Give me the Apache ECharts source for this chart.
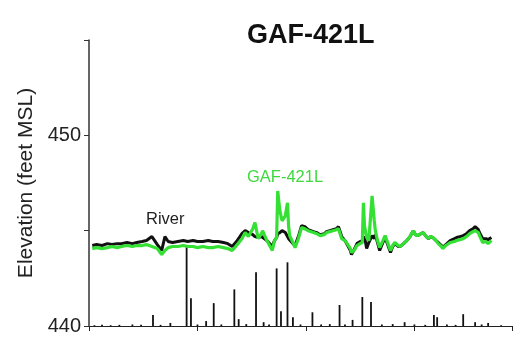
<!DOCTYPE html>
<html><head><meta charset="utf-8">
<script src="https://cdn.jsdelivr.net/npm/echarts@6/dist/echarts.min.js"></script>
<style>html,body{margin:0;padding:0;background:#fff}#c{width:514px;height:339px}</style>
</head><body><div id="c"></div>
<script>
const days = [3,7,12,17,21,26,30,35,40,44,49,53,58,63,67,70,73,77,82,87,91,96,100,105,110,114,119,124,128,132,136,141,144,147,148,151,153,156,159,160,164,169,171,173,174,176,178,181,183,184,185,188,190,193,196,199,202,207,210,213,217,219,222,225,228,230,233,236,238,241,242,245,247,250,252,253,254,256,258,261,263,264,266,268,271,273,276,278,280,282,285,287,290,293,296,299,301,303,306,308,311,313,315,317,320,322,325,326,329,333,337,339,342,345,348,351,354,356,359,360,363,366,368,371];
const gafElev = [444.06,444.11,444.06,444.11,444.17,444.11,444.17,444.22,444.17,444.22,444.22,444.27,444.17,444.06,443.75,443.96,444.11,444.17,444.17,444.22,444.17,444.17,444.11,444.17,444.11,444.11,444.17,444.11,444.06,443.96,444.22,444.58,444.90,444.69,444.74,445.10,445.42,444.58,444.84,445.00,444.48,443.96,444.48,444.64,447.08,446.04,445.52,445.78,446.46,445.26,444.74,444.38,444.11,444.58,445.16,445.10,445.00,444.90,444.84,444.74,444.79,444.90,444.95,445.00,445.05,445.10,444.58,444.48,444.32,444.06,443.85,444.01,444.22,444.32,444.38,446.46,445.26,444.64,444.48,446.82,445.52,445.00,444.48,444.11,444.48,444.74,444.27,443.96,444.22,444.38,444.22,444.17,444.32,444.48,444.69,445.00,444.79,444.74,444.84,444.90,444.69,444.58,444.69,444.64,444.48,444.32,444.17,444.06,444.22,444.38,444.43,444.48,444.53,444.58,444.69,444.84,444.95,445.00,444.90,444.74,444.38,444.43,444.32,444.48];
const riverElev = [444.22,444.27,444.22,444.32,444.27,444.32,444.32,444.38,444.32,444.38,444.43,444.48,444.69,444.27,443.96,444.69,444.43,444.38,444.43,444.48,444.43,444.48,444.43,444.43,444.48,444.43,444.43,444.38,444.32,444.17,444.43,444.84,445.00,444.90,444.90,444.79,444.69,444.64,444.69,444.79,444.48,444.17,444.48,444.64,444.84,444.90,445.00,444.90,444.69,444.58,444.48,444.32,444.22,444.69,445.26,445.21,445.05,444.95,444.90,444.79,444.84,444.95,445.00,445.05,445.10,445.21,444.69,444.48,444.27,443.96,443.75,444.06,444.32,444.43,444.48,444.58,444.69,444.06,444.38,444.74,444.58,444.79,444.38,443.96,444.38,444.64,444.17,443.85,444.17,444.32,444.17,444.17,444.32,444.48,444.69,445.00,444.79,444.74,444.84,444.90,444.69,444.58,444.69,444.64,444.48,444.38,444.22,444.11,444.27,444.48,444.58,444.64,444.69,444.74,444.84,445.00,445.10,445.21,445.05,444.90,444.58,444.58,444.53,444.64];
const rainDays = [5,12,20,28,40,48,59,66,75,90,94,100,108,115,122,134,138,145,154,161,166,173,177,183,188,195,206,214,222,231,236,243,252,260,270,280,291,300,310,318,321,330,338,345,356,362,368,380];
const rainInches = [0.02,0.03,0.02,0.03,0.04,0.03,0.29,0.03,0.08,2.08,0.73,0.04,0.13,0.60,0.04,0.96,0.18,0.05,1.41,0.10,0.04,1.51,0.39,1.67,0.23,0.04,0.36,0.04,0.05,0.55,0.04,0.16,0.76,0.63,0.04,0.05,0.10,0.04,0.03,0.29,0.23,0.04,0.03,0.31,0.10,0.04,0.08,0.02];
const yTicks = [440, 450];
const titleText = 'GAF-421L';
const yName = 'Elevation (feet MSL)';

const chart = echarts.init(document.getElementById('c'));
const pair = (xs, ys) => xs.map((x, i) => [x, ys[i]]);
chart.setOption({
  animation: false,
  backgroundColor: '#fff',
  title: { text: titleText, left: 242, top: 17, textStyle: { fontFamily: 'Liberation Sans, Arial', fontWeight: 'bold', fontSize: 27, color: '#111' } },
  grid: { left: 89, right: 2, top: 40, bottom: 13 },
  xAxis: {
    type: 'value', min: 0, max: 390, interval: 100,
    axisLine: { show: true, onZero: false, lineStyle: { color: '#222', width: 1 } },
    axisTick: { show: true, length: 5, lineStyle: { color: '#222' } },
    axisLabel: { show: false }, splitLine: { show: false }
  },
  yAxis: [{
    type: 'value', min: 440, max: 455, interval: 5,
    name: yName, nameLocation: 'middle', nameGap: 52,
    nameTextStyle: { fontFamily: 'Liberation Sans, Arial', fontSize: 21, color: '#222' },
    axisLine: { show: true, lineStyle: { color: '#333', width: 1.5 } },
    axisTick: { show: true, length: 5, lineStyle: { color: '#333' } },
    axisLabel: { fontFamily: 'Liberation Sans, Arial', fontSize: 20, color: '#222', margin: 8,
      formatter: v => yTicks.includes(v) ? String(v) : '' },
    splitLine: { show: false }
  }, {
    type: 'value', min: 0, max: 7.5, show: false
  }],
  series: [
    { type: 'bar', yAxisIndex: 1, data: pair(rainDays, rainInches), barWidth: 1.8, itemStyle: { color: '#111' } },
    { type: 'line', name: 'River', data: pair(days, riverElev), showSymbol: false, lineStyle: { color: '#111', width: 3 }, z: 3 },
    { type: 'line', name: 'GAF-421L', data: pair(days, gafElev), showSymbol: false, lineStyle: { color: '#33e033', width: 3.2 }, z: 4 }
  ],
  graphic: [
    { type: 'text', left: 146, top: 211, style: { text: 'River', font: '16.5px "Liberation Sans", Arial', fill: '#222' } },
    { type: 'text', left: 247, top: 169, style: { text: 'GAF-421L', font: '16.5px "Liberation Sans", Arial', fill: '#3fd83f' } }
  ]
});
</script></body></html>
